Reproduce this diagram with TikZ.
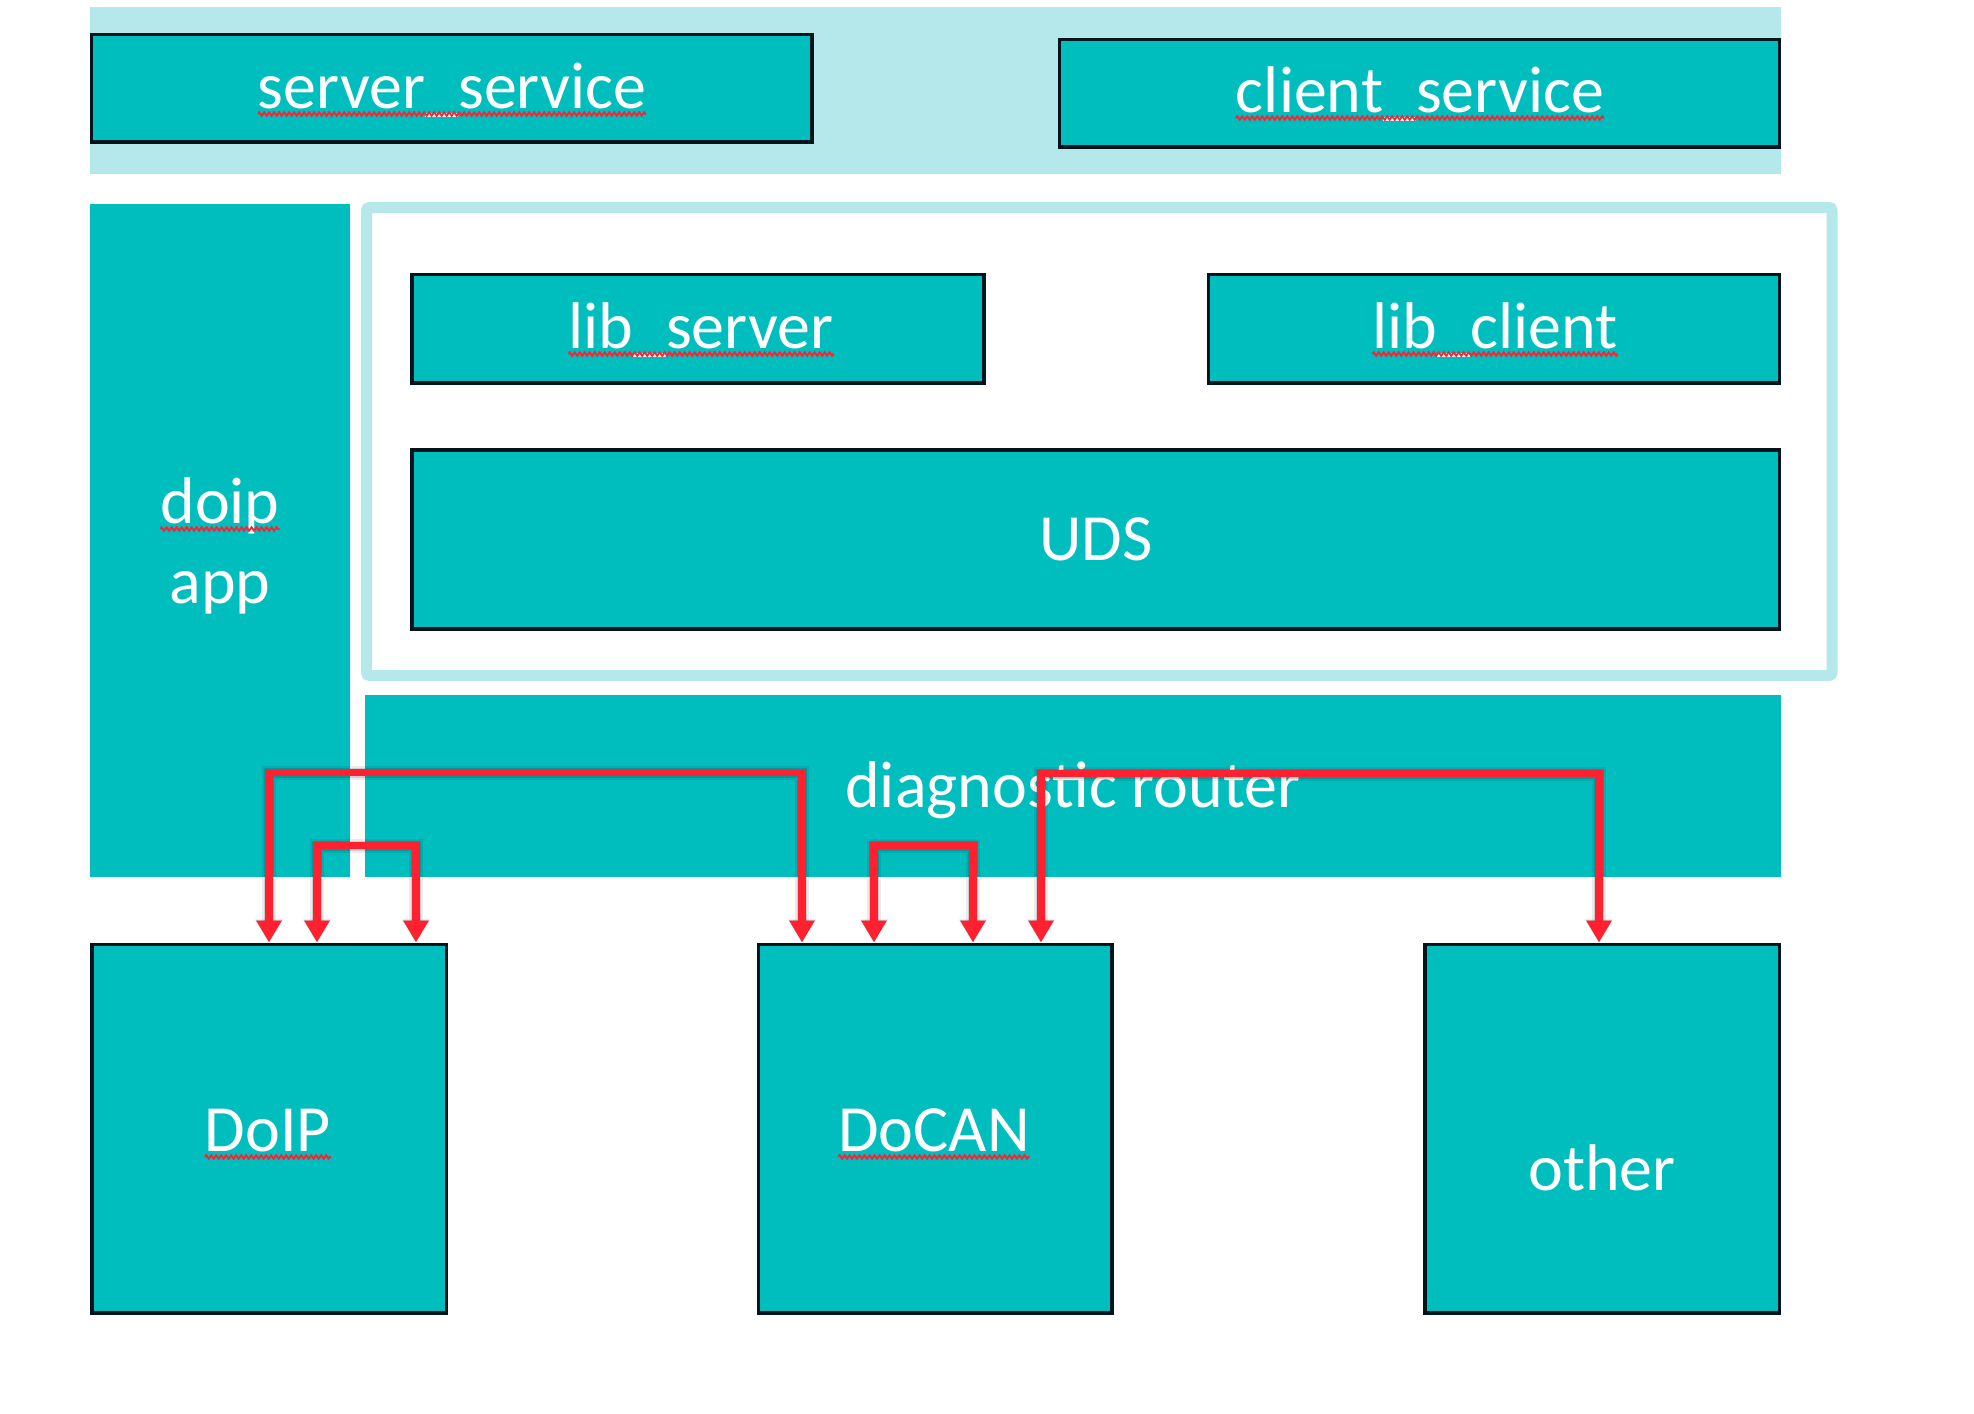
\documentclass[tikz,border=0pt]{standalone}
\usepackage{fontspec}
\setmainfont{Carlito}
\usetikzlibrary{arrows.meta,decorations.pathmorphing}
\definecolor{tealfill}{HTML}{00BDBE}
\definecolor{lightteal}{HTML}{B5E8EA}
\definecolor{redline}{HTML}{FF2030}
\definecolor{edgecol}{HTML}{02141C}
\newcommand\drawlinks[1]{%
  \draw[#1] ([xshift=177pt,yshift=2pt]doip.north west) -- ++(0,-170) -| ([xshift=43.5pt,yshift=2pt]docan.north west);
  \draw[#1] ([xshift=225pt,yshift=2pt]doip.north west) -- ++(0,-97) -| ([xshift=324pt,yshift=2pt]doip.north west);
  \draw[#1] ([xshift=115.5pt,yshift=2pt]docan.north west) -- ++(0,-97) -| ([xshift=214.5pt,yshift=2pt]docan.north west);
  \draw[#1] ([xshift=282.5pt,yshift=2pt]docan.north west) -- ++(0,-169) -| ([xshift=174pt,yshift=2pt]other.north west);
}
\begin{document}
\begin{tikzpicture}[x=1pt,y=-1pt,
  box/.style={draw=edgecol,line width=3.5pt,fill=tealfill,inner sep=0pt,outer sep=0pt,anchor=north west},
  plain/.style={fill=tealfill,inner sep=0pt,outer sep=0pt,anchor=north west},
  lbl/.style={text=white,font=\fontsize{66}{80}\selectfont,inner sep=0pt,outer sep=0pt,anchor=base},
  link/.style={draw=redline,line width=7.5pt,{Triangle[width=24pt,length=22pt]}-{Triangle[width=24pt,length=22pt]}},
  linkshadow/.style={draw=black,line width=#1,{Triangle[width=26pt,length=23pt]}-{Triangle[width=26pt,length=23pt]}},
  squig/.style={draw=redline,line width=1.8pt,decorate,decoration={zigzag,amplitude=1.8pt,segment length=5pt}}
]
\useasboundingbox (0,0) rectangle (1974,1414);
\fill[white] (0,0) rectangle (1974,1414);

% top band
\node[plain,fill=lightteal,minimum width=1691pt,minimum height=167pt] (band) at (90,7) {};
\node[box,minimum width=720.5pt,minimum height=107.5pt] (ss) at (91.5,34.5) {};
\node[box,minimum width=720pt,minimum height=107.5pt] (cs) at (1059.5,39.5) {};

% doip app
\node[plain,minimum width=260pt,minimum height=673pt] (app) at (90,204) {};

% library frame
\node[draw=lightteal,line width=11pt,rounded corners=3pt,inner sep=0pt,outer sep=0pt,anchor=north west,minimum width=1465.5pt,minimum height=468pt] (frame) at (366.5,207.5) {};
\node[box,minimum width=572pt,minimum height=108.5pt] (ls) at (412,274.5) {};
\node[box,minimum width=571pt,minimum height=108.5pt] (lc) at (1208.5,274.5) {};
\node[box,minimum width=1367.5pt,minimum height=179pt] (uds) at (412,450) {};

% router
\node[plain,minimum width=1416pt,minimum height=182pt] (router) at (365,695) {};

% bottom boxes
\node[box,minimum width=354.5pt,minimum height=368.5pt] (doip) at (92,944.5) {};
\node[box,minimum width=353.5pt,minimum height=368.5pt] (docan) at (758.5,944.5) {};
\node[box,minimum width=354.5pt,minimum height=368.5pt] (other) at (1425,944.5) {};

% labels
\node[lbl] (ssT) at (452,108) {server\_service};
\node[lbl] (csT) at (1420,112) {client\_service};
\node[lbl] (lsT) at (701,348) {lib\_server};
\node[lbl] (lcT) at (1495,348) {lib\_client};
\node[lbl] (udsT) at (1096,560) {UDS};
\node[lbl] (doipappT) at (220,523) {doip};
\node[lbl] (appT) at (220,603) {app};
\node[lbl] (routerT) at (1073,807) {diagnostic router};
\node[lbl] (doipT) at (268,1151) {DoIP};
\node[lbl] (docanT) at (934,1151) {DoCAN};
\node[lbl] (otherT) at (1602,1190) {other};

% spelling squiggles
\foreach \t in {ssT,csT,lsT,lcT,doipappT,doipT,docanT}{
  \draw[squig] ([yshift=-6pt]\t.base west) -- ([yshift=-6pt]\t.base east);
}

% red connectors with soft shadow
\begin{scope}[shift={(2.5,5)},opacity=.08]
\drawlinks{linkshadow=14pt}
\end{scope}
\begin{scope}[shift={(1.5,3.5)},opacity=.12]
\drawlinks{linkshadow=10pt}
\end{scope}
\drawlinks{link}
\end{tikzpicture}
\end{document}
